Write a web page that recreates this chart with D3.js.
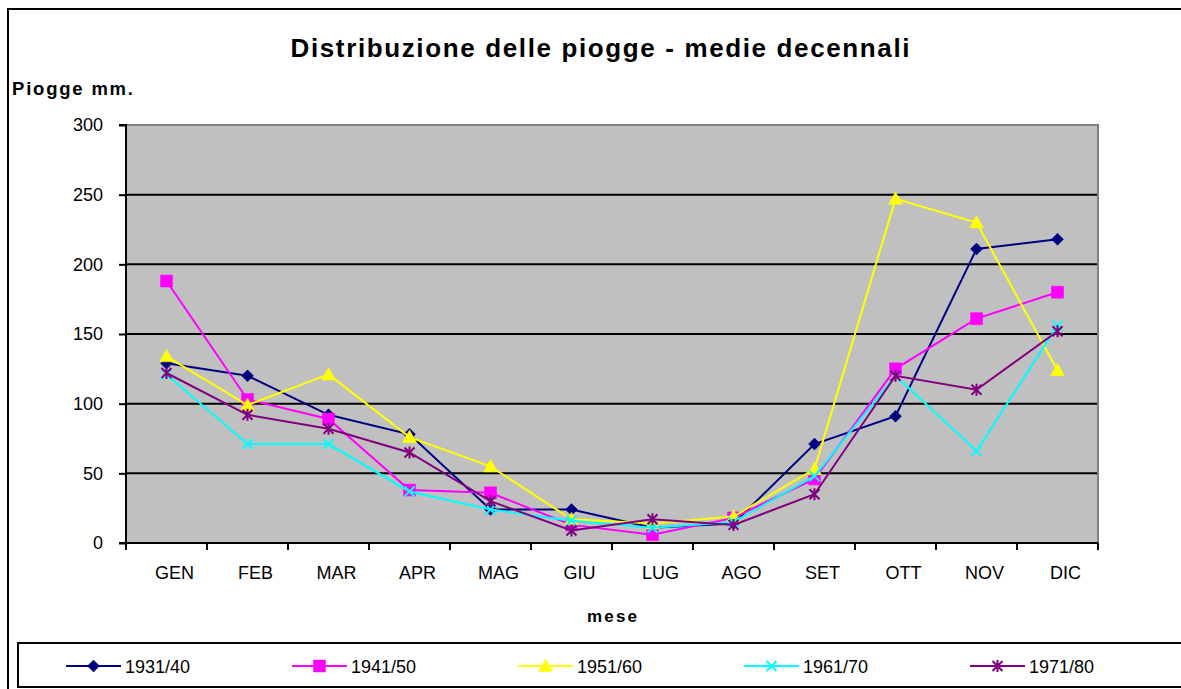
<!DOCTYPE html>
<html><head><meta charset="utf-8">
<script src="https://cdn.jsdelivr.net/npm/d3@7"></script>
<style>html,body{margin:0;padding:0;background:#fff;}svg{display:block;font-family:Arial,"Liberation Sans",sans-serif;}</style>
</head><body>
<svg id="chart" width="1181" height="689"></svg>
<script>
const months = ["GEN","FEB","MAR","APR","MAG","GIU","LUG","AGO","SET","OTT","NOV","DIC"];
const seriesNames = ["1931/40","1941/50","1951/60","1961/70","1971/80"];
const s1931 = [129,120,92,78,24,24,11,14,71,91,211,218];
const s1941 = [188,103,89,38,36,13,6,18,46,125,161,180];
const s1951 = [134,99,121,76,55,17,14,19,53,247,230,124];
const s1961 = [121,71,71,37,24,16,11,15,48,120,66,156];
const s1971 = [122,92,82,65,30,9,17,13,35,120,110,152];
const yTicks = [0,50,100,150,200,250,300];
const colors = ["#000080","#FF00FF","#FFFF00","#00FFFF","#800080"];
const markers = ["diamond","square","triangle","x","star"];
const title = "Distribuzione delle piogge - medie decennali";
const yTitle = "Piogge mm.";
const xTitle = "mese";

const svg = d3.select("#chart");
const W = 1181, H = 689;
const plot = {l:126, r:1098, t:125, b:543};

svg.append("rect").attr("width",W).attr("height",H).attr("fill","#fff");
// outer border
svg.append("rect").attr("x",8).attr("y",9).attr("width",W+10).attr("height",H+10)
  .attr("fill","none").attr("stroke","#000").attr("stroke-width",2);

const x = d3.scaleBand().domain(months).range([plot.l, plot.r]).padding(0);
const y = d3.scaleLinear().domain([0,300]).range([plot.b, plot.t]);

// plot background
svg.append("rect").attr("x",plot.l).attr("y",plot.t).attr("width",plot.r-plot.l).attr("height",plot.b-plot.t)
  .attr("fill","#C0C0C0");
// gridlines
svg.append("g").selectAll("line").data(yTicks.filter(v=>v>0 && v<300)).join("line")
  .attr("x1",plot.l).attr("x2",plot.r).attr("y1",d=>y(d)).attr("y2",d=>y(d))
  .attr("stroke","#000").attr("stroke-width",2);
// top and right border gray
svg.append("path").attr("d",`M${plot.l},${plot.t}H${plot.r}V${plot.b}`).attr("fill","none")
  .attr("stroke","#808080").attr("stroke-width",2);

// y axis
const yAxis = d3.axisLeft(y).tickValues(yTicks).tickSize(7).tickPadding(16).tickFormat(d3.format("d"));
const gy = svg.append("g").attr("transform",`translate(${plot.l},0)`).call(yAxis);
gy.select(".domain").attr("stroke","#000").attr("stroke-width",2).attr("d",`M-7,${plot.t}H0V${plot.b}H-7`);
gy.selectAll(".tick line").attr("stroke","#000").attr("stroke-width",2);
gy.selectAll(".tick text").attr("font-size",18).attr("fill","#000").attr("font-family","Arial, 'Liberation Sans', sans-serif");

// x axis with ticks at band boundaries
const gx = svg.append("g").attr("transform",`translate(0,${plot.b})`);
gx.append("line").attr("x1",plot.l).attr("x2",plot.r).attr("stroke","#000").attr("stroke-width",2);
const bounds = months.map(m=>x(m)).concat([x.range()[1]]);
gx.selectAll("line.tk").data(bounds).join("line").attr("class","tk")
  .attr("x1",d=>d).attr("x2",d=>d).attr("y1",0).attr("y2",7).attr("stroke","#000").attr("stroke-width",2);
gx.selectAll("text").data(months).join("text")
  .attr("x",d=>x(d)+x.bandwidth()/2+8).attr("y",36).attr("text-anchor","middle")
  .attr("font-size",18).attr("fill","#000").text(d=>d);

// titles
svg.append("text").attr("x",600).attr("y",57).attr("text-anchor","middle").attr("font-weight","bold")
  .attr("font-size",26).attr("textLength",619).attr("lengthAdjust","spacing").text(title);
svg.append("text").attr("x",12).attr("y",95).attr("font-weight","bold")
  .attr("font-size",18.5).attr("textLength",121).attr("lengthAdjust","spacing").text(yTitle);
svg.append("text").attr("x",612).attr("y",622).attr("text-anchor","middle").attr("font-weight","bold")
  .attr("font-size",17).attr("textLength",50).attr("lengthAdjust","spacing").text(xTitle);

// marker shapes
function markerPath(type){
  switch(type){
    case "diamond": return "M0,-6L6,0L0,6L-6,0Z";
    case "square": return "M-6,-6H6V6H-6Z";
    case "triangle": return "M0,-7L7,5.5L-7,5.5Z";
    case "x": return "M-5,-5L5,5M5,-5L-5,5";
    case "star": return "M-5,-5L5,5M5,-5L-5,5M0,-6V6";
  }
}
function drawMarker(g, type, color){
  const stroked = (type==="x"||type==="star");
  g.append("path").attr("d",markerPath(type))
    .attr("fill",stroked?"none":color).attr("stroke",color).attr("stroke-width",stroked?2:0.5);
}

const data = [s1931,s1941,s1951,s1961,s1971];
const line = d3.line().x((d,i)=>x(months[i])+x.bandwidth()/2).y(d=>y(d));
data.forEach((vals,si)=>{
  const g = svg.append("g");
  g.append("path").attr("d",line(vals)).attr("fill","none").attr("stroke",colors[si]).attr("stroke-width",2);
  vals.forEach((v,i)=>{
    const mg = g.append("g").attr("transform",`translate(${x(months[i])+x.bandwidth()/2},${y(v)})`);
    drawMarker(mg, markers[si], colors[si]);
  });
});

// legend
svg.append("rect").attr("x",18).attr("y",643).attr("width",W).attr("height",44)
  .attr("fill","#fff").attr("stroke","#000").attr("stroke-width",2);
const legX = d3.scaleLinear().domain([0,4]).range([66,970]);
seriesNames.forEach((n,i)=>{
  const x0 = legX(i), cy = 666;
  const g = svg.append("g");
  g.append("line").attr("x1",x0).attr("x2",x0+55).attr("y1",cy).attr("y2",cy).attr("stroke",colors[i]).attr("stroke-width",2);
  const mg = g.append("g").attr("transform",`translate(${x0+27.5},${cy})`);
  drawMarker(mg, markers[i], colors[i]);
  g.append("text").attr("x",x0+59).attr("y",cy+6.5).attr("font-size",18).attr("fill","#000").text(n);
});
</script>
</body></html>
